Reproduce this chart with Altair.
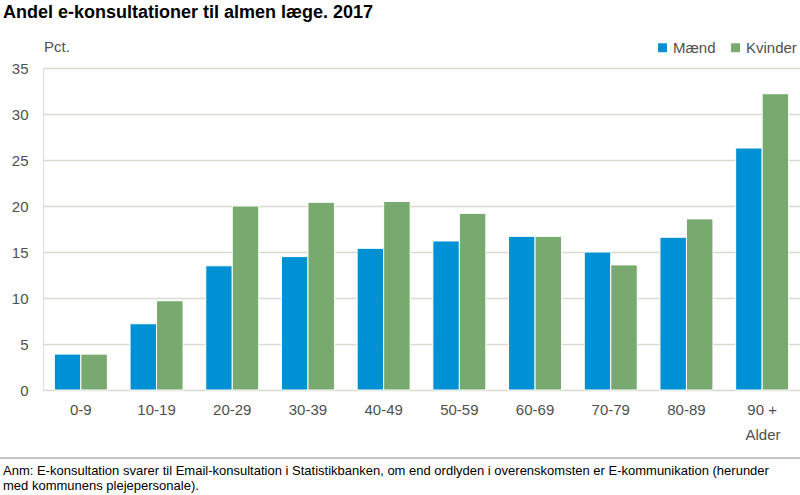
import altair as alt
import pandas as pd

ages = ["0-9", "10-19", "20-29", "30-39", "40-49", "50-59", "60-69", "70-79", "80-89", "90 +"]
maend = [3.9, 7.2, 13.5, 14.5, 15.4, 16.2, 16.7, 15.0, 16.6, 26.3]
kvinder = [3.9, 9.7, 20.0, 20.4, 20.5, 19.2, 16.7, 13.6, 18.6, 32.2]
series = ["Mænd", "Kvinder"]
colors = ["#0090D4", "#78A96F"]
notes = ["Anm: E-konsultation svarer til Email-konsultation i Statistikbanken, om end ordlyden i overenskomsten er E-kommunikation (herunder",
         "med kommunens plejepersonale)."]

rows = []
for a, m, k in zip(ages, maend, kvinder):
    rows.append({"age": a, "sex": "Mænd", "value": m})
    rows.append({"age": a, "sex": "Kvinder", "value": k})
df = pd.DataFrame(rows)

FONT = "Liberation Sans"
TXT = "#505050"

bars = alt.Chart(df).mark_bar(stroke="white", strokeWidth=1).encode(
    x=alt.X("age:N", sort=ages, title=None,
            scale=alt.Scale(paddingInner=0.3, paddingOuter=0.15),
            axis=alt.Axis(labelAngle=0, labelFont=FONT, labelFontSize=15,
                          labelColor=TXT, ticks=False, domain=False,
                          labelPadding=12, grid=False)),
    xOffset=alt.XOffset("sex:N", sort=series),
    y=alt.Y("value:Q", title=None,
            scale=alt.Scale(domain=[0, 35]),
            axis=alt.Axis(values=[0, 5, 10, 15, 20, 25, 30, 35], labelFont=FONT,
                          labelFontSize=15, labelColor=TXT, ticks=False,
                          domain=False, labelPadding=15, gridColor="#D9D9D0",
                          gridWidth=1.5)),
    color=alt.Color("sex:N", sort=series,
                    scale=alt.Scale(domain=series, range=colors),
                    legend=alt.Legend(title=None, orient="none", legendX=612,
                                      legendY=-28, direction="horizontal",
                                      symbolType="square", symbolSize=80,
                                      symbolStrokeWidth=0, padding=0,
                                      labelFont=FONT, labelFontSize=15,
                                      labelColor=TXT, columnPadding=12,
                                      labelOffset=3)),
)

title = alt.Chart(pd.DataFrame({"t": ["Andel e-konsultationer til almen læge. 2017"]})).mark_text(
    align="left", baseline="middle", font=FONT, fontSize=18,
    fontWeight="bold", color="#000000"
).encode(x=alt.value(-40), y=alt.value(-55), text="t:N")

pct = alt.Chart(pd.DataFrame({"t": ["Pct."]})).mark_text(
    align="left", baseline="middle", font=FONT, fontSize=15, color=TXT
).encode(x=alt.value(1), y=alt.value(-21), text="t:N")

alder = alt.Chart(pd.DataFrame({"t": ["Alder"]})).mark_text(
    align="center", baseline="middle", font=FONT, fontSize=15, color=TXT
).encode(x=alt.value(720), y=alt.value(367), text="t:N")

sep = alt.Chart(pd.DataFrame({"a": [0]})).mark_rule(color="#B0B0B0", strokeWidth=1.5).encode(
    x=alt.value(-43), x2=alt.value(757), y=alt.value(390))

note1 = alt.Chart(pd.DataFrame({"t": [notes[0]]})).mark_text(
    align="left", baseline="middle", font=FONT, fontSize=13, color="#000000"
).encode(x=alt.value(-40), y=alt.value(403), text="t:N")
note2 = alt.Chart(pd.DataFrame({"t": [notes[1]]})).mark_text(
    align="left", baseline="middle", font=FONT, fontSize=13, color="#000000"
).encode(x=alt.value(-40), y=alt.value(418), text="t:N")

chart = alt.layer(bars, title, pct, alder, sep, note1, note2).properties(
    width=757, height=322,
    autosize=alt.AutoSizeParams(type="none"),
    padding={"left": 43, "top": 68, "right": 0, "bottom": 105},
).configure_view(stroke=None).configure(background="white")

chart.save("out.html", embed_options={"renderer": "svg", "actions": False})
